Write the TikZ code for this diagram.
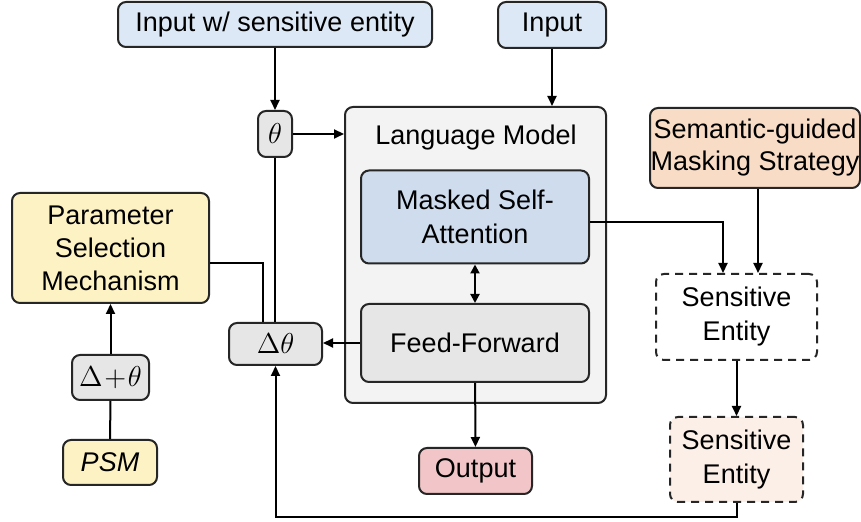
\documentclass[tikz,border=0pt]{standalone}
\usepackage{fontspec}
\setmainfont{Liberation Sans}
\usetikzlibrary{arrows.meta,calc}
\definecolor{inBlue}{HTML}{DCE8F5}
\definecolor{msaBlue}{HTML}{CEDCEE}
\definecolor{lmGray}{HTML}{F3F3F3}
\definecolor{ffGray}{HTML}{E6E6E6}
\definecolor{psmYellow}{HTML}{FDF2C4}
\definecolor{smsPeach}{HTML}{F9DCC6}
\definecolor{outPink}{HTML}{F2C6C8}
\definecolor{entPeach}{HTML}{FCEFE8}
\tikzset{
  blk/.style={draw=black!85,line width=1pt,rounded corners=4pt,inner sep=0pt,
    align=center,font=\fontsize{13.5}{17}\selectfont},
  dashblk/.style={blk,dash pattern=on 4pt off 3pt},
  arr/.style={line width=1pt,-{Triangle[length=5pt,width=4.5pt]}},
  biarr/.style={line width=1pt,{Triangle[length=4.5pt,width=4.5pt]}-{Triangle[length=4.5pt,width=4.5pt]}},
  wire/.style={line width=1pt},
}
\begin{document}
\begin{tikzpicture}[x=0.5pt,y=-0.5pt]
  \fill[white] (0,0) rectangle (861,522);
  \useasboundingbox (0,0) rectangle (861,522);
  % inputs
  \node[blk,fill=inBlue,minimum width=157pt,minimum height=22.5pt] (inSens) at (275,24.5) {Input w/ sensitive entity};
  \node[blk,fill=inBlue,minimum width=54pt,minimum height=23pt] (inPlain) at (552,25) {Input};
  \node[blk,fill=ffGray,minimum width=17pt,minimum height=23pt] (theta) at (275,134) {$\theta$};
  % language model
  \node[blk,fill=lmGray,minimum width=130.5pt,minimum height=148pt] (lm) at (475.5,255) {};
  \node[font=\fontsize{13.5}{17}\selectfont] (lmTitle) at (476,138) {Language Model};
  \node[blk,fill=msaBlue,minimum width=114pt,minimum height=46.5pt] (msa) at (475,217) {Masked Self-\\Attention};
  \node[blk,fill=ffGray,minimum width=114pt,minimum height=39pt] (ff) at (475,343) {Feed-Forward};
  \node[blk,fill=outPink,minimum width=56.5pt,minimum height=23pt] (out) at (475.5,471) {Output};
  % parameter side
  \node[blk,fill=ffGray,minimum width=46.5pt,minimum height=21pt] (dtheta) at (275.5,344) {$\Delta\theta$};
  \node[blk,fill=psmYellow,minimum width=98.5pt,minimum height=55pt,font=\fontsize{13.5}{16.5}\selectfont] (psmech) at (110.5,248) {Parameter\\Selection\\Mechanism};
  \node[blk,fill=ffGray,minimum width=38.5pt,minimum height=22.5pt] (dplus) at (110.5,377.5) {$\Delta\!+\!\theta$};
  \node[blk,fill=psmYellow,minimum width=47pt,minimum height=22.5pt] (psm) at (110,462.5) {\textit{PSM}};
  % masking side
  \node[blk,fill=smsPeach,minimum width=105pt,minimum height=40pt,font=\fontsize{13.5}{16}\selectfont] (sms) at (755,148) {Semantic-guided\\Masking Strategy};
  \node[dashblk,fill=white,minimum width=80.5pt,minimum height=43pt] (se1) at (736.5,317) {Sensitive\\Entity};
  \node[dashblk,fill=entPeach,minimum width=66.5pt,minimum height=42.5pt] (se2) at (736.5,459.5) {Sensitive\\Entity};
  \coordinate (loop) at (0,517);

  \draw[arr] (inSens) -- (theta);
  \draw[arr] (inPlain) -- (inPlain |- lm.north);
  \draw[arr] (theta) -- (theta -| lm.west);
  \draw[biarr] (msa) -- (ff);
  \draw[arr] (ff) -- (out);
  \draw[arr] (ff.west) -- (ff.west -| dtheta.east);
  \draw[wire] (theta.south) -- (theta.south |- dtheta.north);
  \draw[wire] ([yshift=-7.5pt]psmech.east) -| ([xshift=-6.25pt]dtheta.north);
  \draw[arr] (dplus) -- (psmech);
  \draw[wire] (psm) -- (dplus);
  \draw[arr] ([yshift=-2.5pt]msa.east) -| ([xshift=-6.75pt]se1.north);
  \draw[arr] ([xshift=1.5pt]sms.south) -- ([xshift=1.5pt]sms.south |- se1.north);
  \draw[arr] (se1) -- (se2);
  \draw[arr] (se2.south) -- (se2.south |- loop) -| (dtheta.south);
\end{tikzpicture}
\end{document}
